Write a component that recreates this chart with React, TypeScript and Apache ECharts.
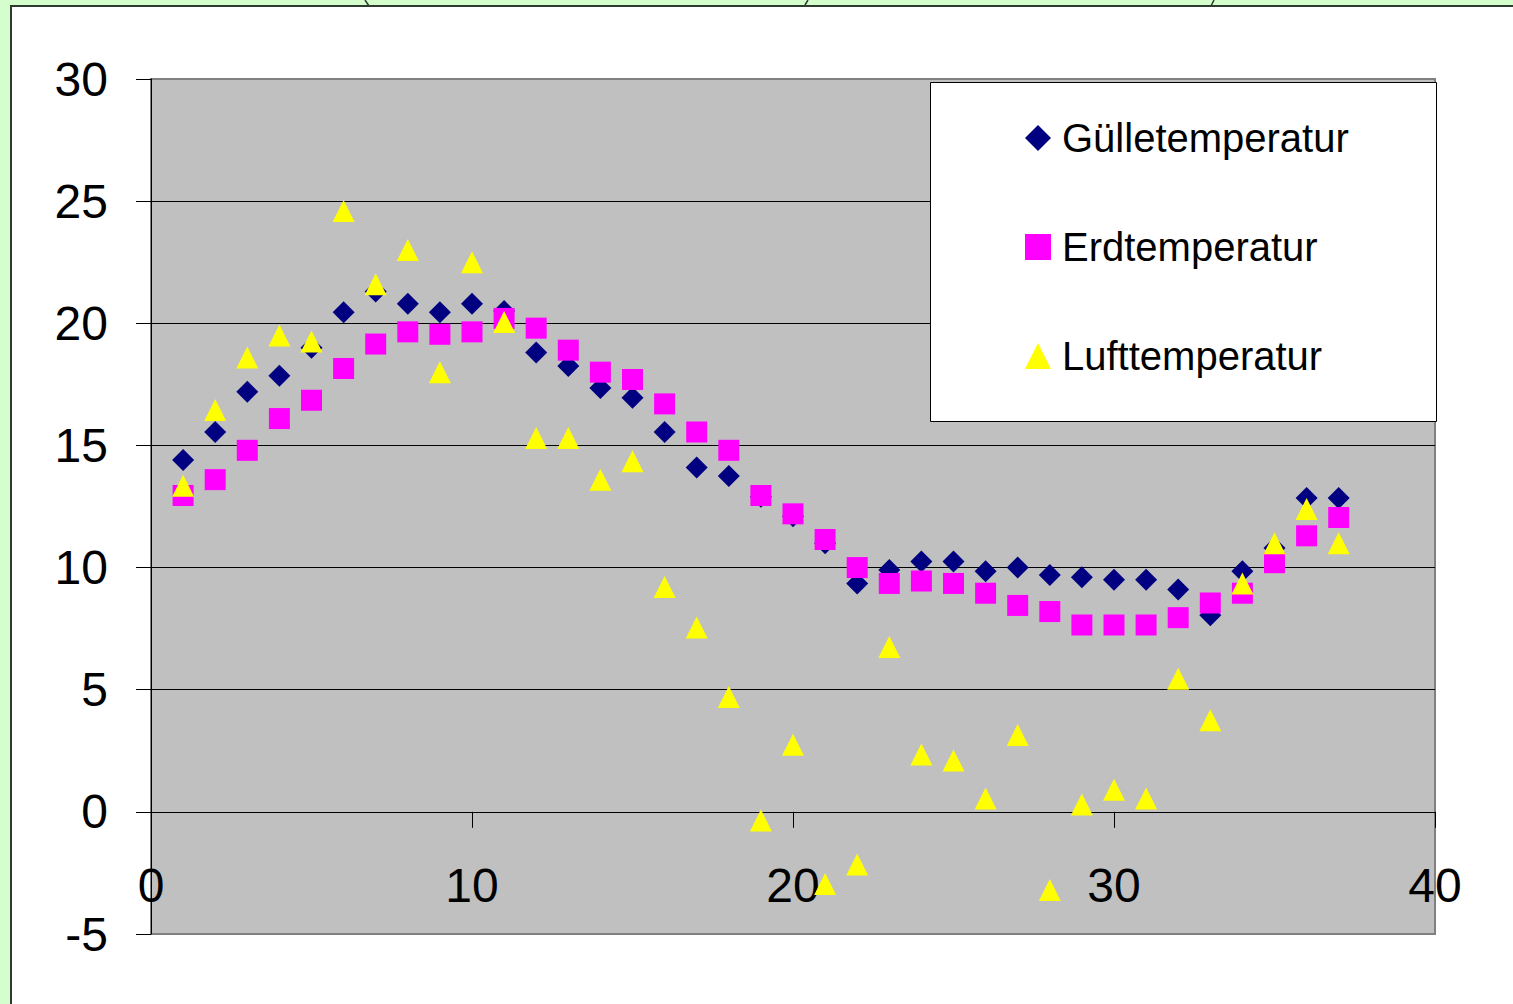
import React, { useEffect, useRef } from "react";
import * as echarts from "echarts";

// Measurement days (x) and temperatures in °C
const days = [
  1, 2, 3, 4, 5, 6, 7, 8, 9, 10, 11, 12, 13, 14, 15, 16, 17, 18, 19, 20, 21,
  22, 23, 24, 25, 26, 27, 28, 29, 30, 31, 32, 33, 34, 35, 36, 37,
];

const guelle = [
  14.4, 15.55, 17.2, 17.85, 19.0, 20.45, 21.3, 20.8, 20.45, 20.8, 20.5, 18.8,
  18.25, 17.35, 16.95, 15.55, 14.1, 13.75, 12.9, 12.1, 11.0, 9.35, 9.9, 10.25,
  10.25, 9.85, 10.0, 9.7, 9.6, 9.5, 9.5, 9.1, 8.05, 9.85, 10.8, 12.85, 12.85,
];

const erde = [
  12.95, 13.6, 14.8, 16.1, 16.85, 18.15, 19.15, 19.65, 19.55, 19.65, 20.2, 19.8,
  18.9, 18.0, 17.7, 16.7, 15.55, 14.8, 12.95, 12.2, 11.15, 10.0, 9.35, 9.45,
  9.35, 8.95, 8.45, 8.2, 7.65, 7.65, 7.65, 7.95, 8.55, 8.95, 10.2, 11.3, 12.05,
];

const luft = [
  13.35, 16.45, 18.6, 19.5, 19.25, 24.6, 21.6, 23.0, 18.0, 22.5, 20.05, 15.3,
  15.3, 13.6, 14.35, 9.2, 7.55, 4.7, -0.35, 2.75, -2.95, -2.15, 6.75, 2.35, 2.1,
  0.55, 3.15, -3.2, 0.3, 0.9, 0.55, 5.45, 3.75, 9.35, 11.0, 12.4, 11.0,
];

const seriesNames = ["Gülletemperatur", "Erdtemperatur", "Lufttemperatur"];

const FONT = "'Liberation Sans', Arial, sans-serif";

// plot box in pixels; the x axis sits on the y = 0 line
const PLOT = { left: 151, top: 79, width: 1284, height: 855 };
const Y_MIN = -5;
const Y_MAX = 30;
const ZERO_SHIFT = (PLOT.height * (0 - Y_MIN)) / (Y_MAX - Y_MIN);

const pairs = (vals: number[]) => days.map((d, i) => [d, vals[i]]);

export default function App() {
  const ref = useRef<HTMLDivElement>(null);

  useEffect(() => {
    document.body.style.margin = "0";
    document.body.style.overflow = "hidden";
    if (!ref.current) return;
    const chart = echarts.init(ref.current, undefined, { renderer: "svg" });

    chart.setOption({
      animation: false,
      backgroundColor: "transparent",
      textStyle: { fontFamily: FONT },
      grid: {
        ...PLOT,
        outerBoundsMode: "none",
        containLabel: false,
        show: true,
        backgroundColor: "#C0C0C0",
        borderColor: "#808080",
        borderWidth: 2,
      },
      legend: {
        orient: "vertical",
        left: 1020,
        top: 113,
        itemWidth: 26,
        itemHeight: 26,
        itemGap: 69,
        data: seriesNames,
        textStyle: {
          fontFamily: FONT,
          fontSize: 40,
          color: "#000",
          padding: [0, 0, 0, 6],
        },
      },
      xAxis: {
        type: "value",
        position: "bottom",
        offset: -ZERO_SHIFT,
        min: 0,
        max: 40,
        interval: 10,
        axisLine: { show: true, onZero: false, lineStyle: { color: "#000", width: 1 } },
        axisTick: { show: true, inside: false, length: 16, lineStyle: { color: "#000" } },
        axisLabel: { fontSize: 48, color: "#000", margin: 50, fontFamily: FONT },
        splitLine: { show: false },
      },
      yAxis: {
        type: "value",
        min: Y_MIN,
        max: Y_MAX,
        interval: 5,
        axisLine: { show: true, onZero: false, lineStyle: { color: "#000", width: 1 } },
        axisTick: { show: true, inside: false, length: 15, lineStyle: { color: "#000" } },
        axisLabel: { fontSize: 48, color: "#000", margin: 43, fontFamily: FONT },
        splitLine: {
          show: true,
          showMinLine: false,
          showMaxLine: false,
          lineStyle: { color: "#000", width: 1 },
        },
      },
      graphic: [
        {
          type: "rect",
          z: 3,
          shape: { x: 930.5, y: 82.5, width: 506, height: 339 },
          style: { fill: "#fff", stroke: "#000", lineWidth: 1 },
        },
      ],
      series: [
        {
          name: seriesNames[0],
          type: "scatter",
          symbol: "diamond",
          symbolSize: 22,
          itemStyle: { color: "#000080", opacity: 1 },
          data: pairs(guelle),
        },
        {
          name: seriesNames[1],
          type: "scatter",
          symbol: "rect",
          symbolSize: 21,
          itemStyle: { color: "#FF00FF", opacity: 1 },
          data: pairs(erde),
        },
        {
          name: seriesNames[2],
          type: "scatter",
          symbol: "triangle",
          symbolSize: 22,
          itemStyle: { color: "#FFFF00", opacity: 1 },
          data: pairs(luft),
        },
      ],
    });

    return () => chart.dispose();
  }, []);

  return (
    <div
      style={{
        position: "fixed",
        left: 0,
        top: 0,
        width: 1513,
        height: 1004,
        overflow: "hidden",
        background: "#D4FFCC",
      }}
    >
      {/* white sheet with a dark frame, running off the bottom-right edge */}
      <div
        style={{
          position: "absolute",
          left: 10,
          top: 5,
          width: 1600,
          height: 1100,
          background: "#fff",
          borderTop: "2px solid #2E3B2E",
          borderLeft: "2px solid #2E3B2E",
        }}
      />
      {/* descenders of the heading line above the sheet */}
      <svg
        width={1513}
        height={10}
        style={{ position: "absolute", left: 0, top: 0 }}
      >
        <line x1={365} y1={0} x2={369} y2={6} stroke="#2E3B2E" strokeWidth={1.5} />
        <line x1={808} y1={0} x2={805} y2={5} stroke="#2E3B2E" strokeWidth={1.5} />
        <line x1={1214} y1={0} x2={1211} y2={6} stroke="#2E3B2E" strokeWidth={1.5} />
      </svg>
      <div
        ref={ref}
        style={{ position: "absolute", left: 0, top: 0, width: 1513, height: 1004 }}
      />
    </div>
  );
}
